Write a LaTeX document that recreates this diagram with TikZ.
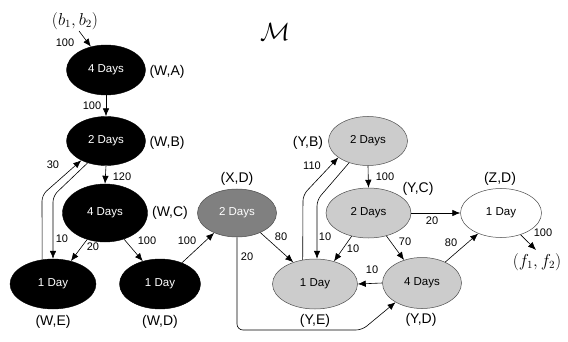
\documentclass[tikz,border=0pt]{standalone}
\usepackage{fontspec}
\setmainfont{Liberation Sans}
\usetikzlibrary{shapes.geometric,arrows.meta}
\definecolor{darkg}{RGB}{128,128,128}
\definecolor{lightg}{RGB}{204,204,204}
\begin{document}
\begin{tikzpicture}[x=1pt,y=-1pt,
  st/.style={ellipse,inner sep=0pt,font=\fontsize{11.5}{13}\selectfont},
  blk/.style={st,fill=black,draw=black,text=white},
  dgr/.style={st,fill=darkg,draw=black!70,line width=0.5pt,text=white},
  lgr/.style={st,fill=lightg,draw=black!70,line width=0.5pt,text=black},
  wht/.style={st,fill=white,draw=black!70,line width=0.5pt,text=black},
  nlab/.style={font=\fontsize{14}{16}\selectfont,inner sep=0pt},
  elab/.style={font=\fontsize{11}{13}\selectfont,inner sep=0pt},
  arr/.style={-{Latex[length=8pt,width=6.5pt]},line width=0.6pt},
  every path/.style={rounded corners=0pt}]
\useasboundingbox (0,0) rectangle (568,342);
% nodes
\node[blk,minimum width=79pt,minimum height=50pt] (WA) at (106,70) {4 Days};
\node[blk,minimum width=79pt,minimum height=49pt] (WB) at (106,141) {2 Days};
\node[blk,minimum width=85pt,minimum height=58pt] (WC) at (105,213) {4 Days};
\node[blk,minimum width=86pt,minimum height=50pt] (WE) at (53,284) {1 Day};
\node[blk,minimum width=81pt,minimum height=50pt] (WD) at (160,284) {1 Day};
\node[dgr,minimum width=79pt,minimum height=48pt] (XD) at (237,213) {2 Days};
\node[lgr,minimum width=85pt,minimum height=50pt] (YE) at (315,284) {1 Day};
\node[lgr,minimum width=79pt,minimum height=49pt] (YB) at (368,141) {2 Days};
\node[lgr,minimum width=85pt,minimum height=50pt] (YC) at (368.5,213) {2 Days};
\node[lgr,minimum width=79pt,minimum height=51pt] (YD) at (422,283) {4 Days};
\node[wht,minimum width=81pt,minimum height=49pt] (ZD) at (501,213) {1 Day};
% node labels
\node[nlab] (tWA) at (167,72) {(W,A)};
\node[nlab] (tWB) at (167,143) {(W,B)};
\node[nlab] (tWC) at (170,213) {(W,C)};
\node[nlab] (tWE) at (53,322) {(W,E)};
\node[nlab] (tWD) at (160,322) {(W,D)};
\node[nlab] (tXD) at (237,179) {(X,D)};
\node[nlab] (tYB) at (308,143) {(Y,B)};
\node[nlab] (tYC) at (418,189) {(Y,C)};
\node[nlab] (tYE) at (315,321) {(Y,E)};
\node[nlab] (tYD) at (421,320) {(Y,D)};
\node[nlab] (tZD) at (500,179) {(Z,D)};
% math labels
\node[inner sep=0pt] (M) at (275,32) {\fontsize{30}{32}\selectfont$\mathcal{M}$};
\node[inner sep=0pt] (src) at (75,21) {\fontsize{16}{18}\selectfont$(b_1,b_2)$};
\node[inner sep=0pt] (snk) at (537,262) {\fontsize{16}{18}\selectfont$(f_1,f_2)$};
\coordinate (srcend) at (79,31);
\coordinate (snkend) at (536,250);
% edge labels
\node[elab] (e1) at (65,43) {100};
\node[elab] (e2) at (92,106) {100};
\node[elab] (e3) at (122,177) {120};
\node[elab] (e4) at (53,165) {30};
\node[elab] (e5) at (62,239) {10};
\node[elab] (e6) at (93,247) {20};
\node[elab] (e7) at (147,241) {100};
\node[elab] (e8) at (187,241) {100};
\node[elab] (e9) at (281,237) {80};
\node[elab] (e10) at (247,257) {20};
\node[elab] (e11) at (312,166) {110};
\node[elab] (e12) at (325,237) {10};
\node[elab] (e13) at (385,177) {100};
\node[elab] (e14) at (353,249) {10};
\node[elab] (e15) at (405,242) {70};
\node[elab] (e16) at (432,221) {20};
\node[elab] (e17) at (451,243) {80};
\node[elab] (e18) at (372,270) {10};
\node[elab] (e19) at (543,233) {100};
% connectors
\draw[arr] (srcend) -- (WA.123);
\draw[arr] (WA.south) -- (WB.north);
\draw[arr] (WB.south) -- (WC.north);
\draw[arr,rounded corners=6pt] (WE.114) -- (42,195) -- (WB.218);
\draw[arr,rounded corners=6pt] (WB.230) -- (53,196) -- (WE.north);
\draw[arr] (WC.236) -- (WE.52);
\draw[arr] (WC.306) -- (WD.127);
\draw[arr] (WD.44) -- (XD.221);
\draw[arr] (XD.320) -- (YE.135);
\draw[arr,rounded corners=6pt] (XD.south) -- (237,330) -- (362,330) -- (YD.216);
\draw[arr,rounded corners=6pt] (YE.117) -- (303,195) -- (YB.209);
\draw[arr,rounded corners=6pt] (YB.229) -- (317,200) -- ([xshift=2pt]YE.north);
\draw[arr] (YB.south) -- (YC.north);
\draw[arr] (YC.234) -- (YE.50);
\draw[arr] (YC.308) -- (YD.128);
\draw[arr] (YC.east) -- (ZD.west);
\draw[arr] (YD.42) -- (ZD.222);
\draw[arr] (YD.west) -- (YE.east);
\draw[arr] (ZD.312) -- (snkend);
\end{tikzpicture}
\end{document}
